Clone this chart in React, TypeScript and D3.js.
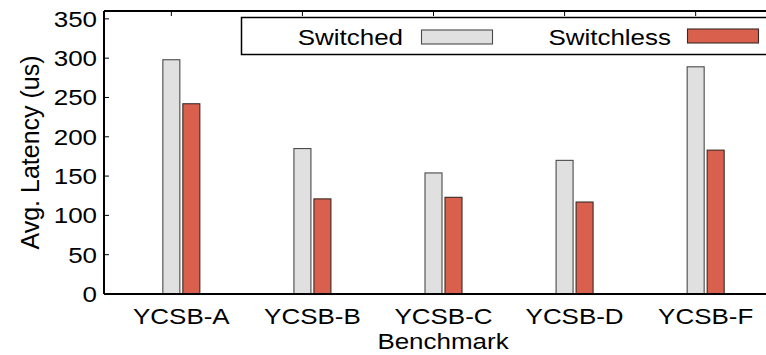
import React from 'react'
import * as d3 from 'd3'

const categories = ['YCSB-A', 'YCSB-B', 'YCSB-C', 'YCSB-D', 'YCSB-F']
const switched = [298, 185, 154, 170, 289]
const switchless = [242, 121, 123, 117, 183]
const yTicks = [0, 50, 100, 150, 200, 250, 300, 350]
const seriesNames = ['Switched', 'Switchless']

const W = 766
const H = 355
const left = 104
const right = 783
const top = 11
const bottom = 294
const font = '"Liberation Sans", Arial, Helvetica, sans-serif'
const fs = 22
const stretch = 1.18

const colors = { Switched: '#e0e0e0', Switchless: '#d9604c' }
const strokes = { Switched: '#4a4a4a', Switchless: '#3a2a26' }

// text drawn a little wider than tall, like the original figure
function T({ x, y, anchor, children }: { x: number; y: number; anchor: string; children: React.ReactNode }) {
  return (
    <text transform={`translate(${x},${y}) scale(${stretch},1)`} textAnchor={anchor} fontSize={fs}>
      {children}
    </text>
  )
}

export default function App() {
  const x = d3.scaleBand().domain(categories).range([left, right]).paddingInner(0).paddingOuter(0.09)
  const y = d3.scaleLinear().domain([0, 360]).range([bottom, top])
  const sub = d3.scaleBand().domain(seriesNames).range([-18.5, 18.5]).paddingInner(0.15)
  const center = (c: string) => (x(c) as number) + x.bandwidth() / 2

  const values: Record<string, number[]> = { Switched: switched, Switchless: switchless }

  return (
    <svg width={W} height={H} style={{ position: 'absolute', left: 0, top: 0, background: '#fff' }} fontFamily={font}>
      {/* bars */}
      {seriesNames.map((s) =>
        categories.map((c, i) => (
          <rect
            key={s + c}
            x={center(c) + (sub(s) as number)}
            y={y(values[s][i])}
            width={sub.bandwidth()}
            height={bottom - y(values[s][i])}
            fill={(colors as any)[s]}
            stroke={(strokes as any)[s]}
            strokeWidth={1.1}
          />
        ))
      )}

      {/* frame */}
      <line x1={left} x2={right} y1={top} y2={top} stroke="#000" strokeWidth={2} />
      <line x1={left} x2={left} y1={top} y2={bottom} stroke="#000" strokeWidth={2} />
      <line x1={left} x2={right} y1={bottom} y2={bottom} stroke="#000" strokeWidth={2} />

      {/* y ticks */}
      {yTicks.map((t) => (
        <g key={t}>
          <line x1={left} x2={left + 5} y1={y(t)} y2={y(t)} stroke="#000" strokeWidth={1} />
          <T x={97} y={y(t) + 8} anchor="end">
            {t}
          </T>
        </g>
      ))}

      {/* x ticks (mirrored on top) */}
      {categories.map((c) => (
        <g key={c}>
          <line
            x1={center(c) + (sub('Switched') as number) + sub.bandwidth() / 2}
            x2={center(c) + (sub('Switched') as number) + sub.bandwidth() / 2}
            y1={top}
            y2={top + 5}
            stroke="#000"
            strokeWidth={1}
          />
          <T x={center(c)} y={323.5} anchor="middle">
            {c}
          </T>
        </g>
      ))}

      <T x={443} y={348.5} anchor="middle">
        Benchmark
      </T>
      <text
        transform={`translate(30,${(top + bottom) / 2}) rotate(-90)`}
        textAnchor="middle"
        dominantBaseline="central"
        fontSize={25}
      >
        Avg. Latency (us)
      </text>

      {/* legend */}
      <rect x={241.5} y={17.5} width={540} height={37} fill="#fff" stroke="#000" strokeWidth={1.5} />
      <T x={403} y={45} anchor="end">
        Switched
      </T>
      <rect x={421.5} y={30} width={71} height={14} fill={colors.Switched} stroke={strokes.Switched} strokeWidth={1.1} />
      <T x={671} y={45} anchor="end">
        Switchless
      </T>
      <rect x={687.5} y={29} width={71} height={14} fill={colors.Switchless} stroke={strokes.Switchless} strokeWidth={1.1} />
    </svg>
  )
}
